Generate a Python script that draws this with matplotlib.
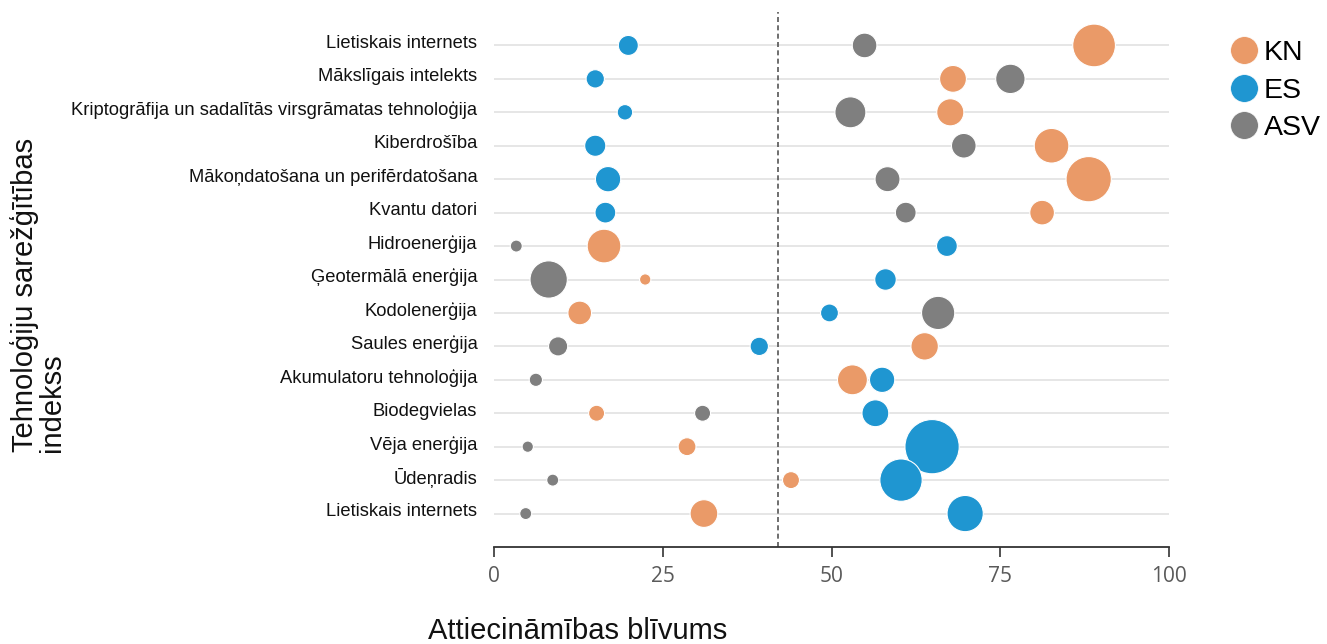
import matplotlib
matplotlib.use("Agg")
import matplotlib.pyplot as plt
from matplotlib.lines import Line2D
from matplotlib.transforms import ScaledTranslation

categories = [
    "Lietiskais internets",
    "Mākslīgais intelekts",
    "Kriptogrāfija un sadalītās virsgrāmatas tehnoloģija",
    "Kiberdrošība",
    "Mākoņdatošana un perifērdatošana",
    "Kvantu datori",
    "Hidroenerģija",
    "Ģeotermālā enerģija",
    "Kodolenerģija",
    "Saules enerģija",
    "Akumulatoru tehnoloģija",
    "Biodegvielas",
    "Vēja enerģija",
    "Ūdeņradis",
    "Lietiskais internets",
]

kn_x = [88.9, 68.0, 67.6, 82.6, 88.1, 81.2, 16.3, 22.4, 12.7, 63.8, 53.1, 15.2, 28.6, 44.0, 31.1]
es_x = [19.9, 15.0, 19.4, 15.0, 16.9, 16.5, 67.1, 58.0, 49.7, 39.3, 57.5, 56.5, 64.9, 60.3, 69.8]
asv_x = [54.9, 76.5, 52.8, 69.6, 58.3, 61.0, 3.3, 8.1, 65.8, 9.5, 6.2, 30.9, 5.0, 8.7, 4.7]

kn_size = [114, 45, 46, 75, 128, 38, 71, 8, 35, 47, 56, 16, 20, 18, 48]
es_size = [25, 21, 15, 28, 40, 27, 27, 29, 20, 21, 40, 45, 184, 112, 82]
asv_size = [38, 54, 60, 38, 39, 27, 9, 87, 69, 23, 11, 16, 8, 9, 9]

series_names = ["KN", "ES", "ASV"]
series_colors = ["#EA9A68", "#1F96D1", "#7F7F7F"]
threshold = 42.1
x_ticks = [0, 25, 50, 75, 100]

W, H, DPI = 1327, 644, 100
fig = plt.figure(figsize=(W / DPI, H / DPI), dpi=DPI)
ax = fig.add_axes([494 / W, 1 - 547 / H, (1169 - 494) / W, (547 - 12) / H])

n = len(categories)
ypos = [n - 1 - i for i in range(n)]
scale = (4 * 0.72) ** 2

for xs, ss, col in zip([kn_x, es_x, asv_x], [kn_size, es_size, asv_size], series_colors):
    ax.scatter(xs, ypos, s=[v * scale for v in ss], color=col, edgecolors="white",
               linewidths=0.8, zorder=3)

ax.set_xlim(0, 100)
ax.set_ylim(-1, n)
ax.set_yticks(ypos)
ax.set_yticklabels(categories, fontsize=13.2, family="Liberation Sans", color="#111111")
ax.tick_params(axis="y", length=0, pad=12)
up = ScaledTranslation(0, 4 / DPI, fig.dpi_scale_trans)
for lab in ax.get_yticklabels():
    lab.set_transform(lab.get_transform() + up)
ax.yaxis.grid(True, color="#E2E2E2", linewidth=1.2, zorder=0)
ax.set_axisbelow(True)

ax.set_xticks(x_ticks)
ax.set_xticklabels([str(t) for t in x_ticks], fontsize=15, family="Open Sans", color="#5A5A5A")
ax.tick_params(axis="x", length=7, width=1.2, color="#333333", pad=7)

for s in ["top", "right", "left"]:
    ax.spines[s].set_visible(False)
ax.spines["bottom"].set_color("#333333")
ax.spines["bottom"].set_linewidth(1.3)

ax.axvline(threshold, color="#555555", linestyle=(0, (3, 2)), linewidth=1.2, zorder=2)

fig.text(578 / W, 1 - 631 / H, "Attiecināmības blīvums", fontsize=21, family="Liberation Sans",
         ha="center", va="center", color="#111111")
fig.text(10 / W, 1 - 452 / H, "Tehnoloģiju sarežģītības\nindekss", fontsize=21,
         family="Liberation Sans", rotation=90, ha="left", va="bottom",
         multialignment="left", color="#111111", linespacing=0.95)

handles = [Line2D([0], [0], marker="o", linestyle="none", markersize=20,
                  markerfacecolor=c, markeredgecolor="white", markeredgewidth=0.5)
           for c in series_colors]
fig.legend(handles, series_names, loc="upper left", bbox_to_anchor=(1217 / W, 1 - 29 / H),
           frameon=False, prop={"family": "Liberation Sans", "size": 20.5},
           handletextpad=0.15, labelspacing=0.4, borderaxespad=0, handlelength=1.1)

fig.savefig("out.png", dpi=DPI)
